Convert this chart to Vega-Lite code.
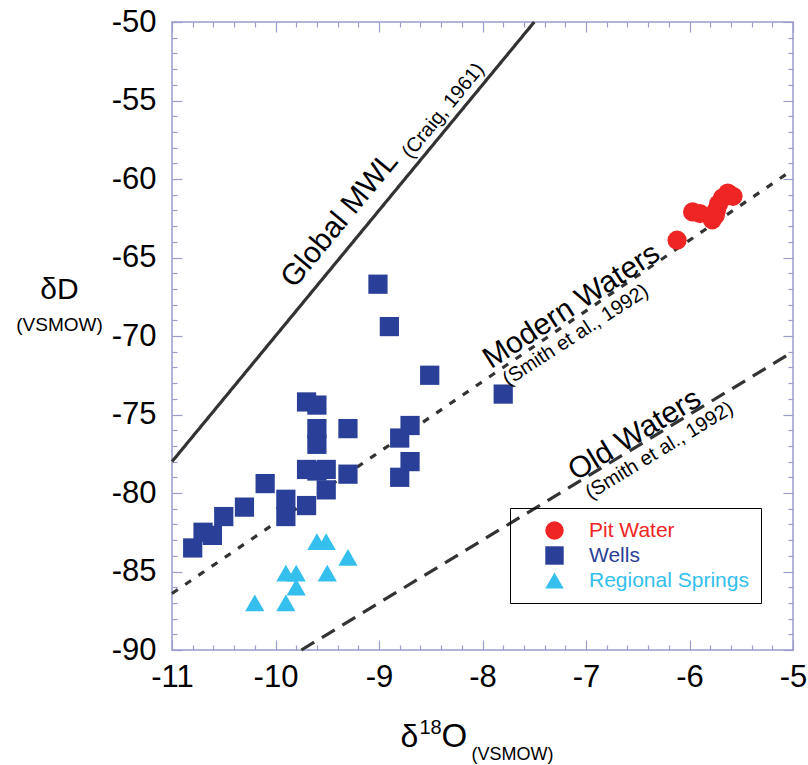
{
  "$schema": "https://vega.github.io/schema/vega-lite/v6.json",
  "width": 621,
  "height": 628,
  "autosize": {"type": "none"},
  "padding": {"left": 172, "top": 22, "right": 15, "bottom": 115},
  "background": "white",
  "config": {
    "font": "Liberation Sans, Arial, sans-serif",
    "view": {"stroke": "#9a9ccc", "strokeWidth": 1.5},
    "axis": {"domain": false, "grid": false, "tickColor": "#9a9ccc", "tickWidth": 1.2, "labelFont": "Liberation Sans, Arial, sans-serif", "labelColor": "black", "titleColor": "black", "titleFontWeight": "normal", "titleFont": "Liberation Sans, Arial, sans-serif", "labelFlush": false}
  },
  "datasets": {
    "points": [
      {"o18": -6.12, "dD": -63.9, "type": "Pit Water"},
      {"o18": -5.97, "dD": -62.1, "type": "Pit Water"},
      {"o18": -5.9, "dD": -62.2, "type": "Pit Water"},
      {"o18": -5.78, "dD": -62.6, "type": "Pit Water"},
      {"o18": -5.74, "dD": -62.0, "type": "Pit Water"},
      {"o18": -5.72, "dD": -61.6, "type": "Pit Water"},
      {"o18": -5.68, "dD": -61.2, "type": "Pit Water"},
      {"o18": -5.63, "dD": -60.9, "type": "Pit Water"},
      {"o18": -5.58, "dD": -61.1, "type": "Pit Water"},
      {"o18": -5.75, "dD": -62.3, "type": "Pit Water"},
      {"o18": -10.8, "dD": -83.5, "type": "Wells"},
      {"o18": -10.7, "dD": -82.5, "type": "Wells"},
      {"o18": -10.61, "dD": -82.7, "type": "Wells"},
      {"o18": -10.5, "dD": -81.5, "type": "Wells"},
      {"o18": -10.3, "dD": -80.9, "type": "Wells"},
      {"o18": -10.1, "dD": -79.4, "type": "Wells"},
      {"o18": -9.9, "dD": -80.4, "type": "Wells"},
      {"o18": -9.9, "dD": -81.5, "type": "Wells"},
      {"o18": -9.7, "dD": -74.2, "type": "Wells"},
      {"o18": -9.6, "dD": -74.4, "type": "Wells"},
      {"o18": -9.6, "dD": -75.9, "type": "Wells"},
      {"o18": -9.6, "dD": -76.9, "type": "Wells"},
      {"o18": -9.7, "dD": -78.5, "type": "Wells"},
      {"o18": -9.6, "dD": -78.6, "type": "Wells"},
      {"o18": -9.51, "dD": -78.5, "type": "Wells"},
      {"o18": -9.7, "dD": -80.8, "type": "Wells"},
      {"o18": -9.51, "dD": -79.8, "type": "Wells"},
      {"o18": -9.3, "dD": -75.9, "type": "Wells"},
      {"o18": -9.3, "dD": -78.8, "type": "Wells"},
      {"o18": -8.8, "dD": -76.5, "type": "Wells"},
      {"o18": -8.7, "dD": -75.7, "type": "Wells"},
      {"o18": -8.8, "dD": -79.0, "type": "Wells"},
      {"o18": -8.7, "dD": -78.0, "type": "Wells"},
      {"o18": -9.01, "dD": -66.7, "type": "Wells"},
      {"o18": -8.9, "dD": -69.4, "type": "Wells"},
      {"o18": -8.51, "dD": -72.5, "type": "Wells"},
      {"o18": -7.8, "dD": -73.7, "type": "Wells"},
      {"o18": -9.6, "dD": -83.1, "type": "Regional Springs"},
      {"o18": -9.51, "dD": -83.1, "type": "Regional Springs"},
      {"o18": -9.3, "dD": -84.1, "type": "Regional Springs"},
      {"o18": -9.9, "dD": -85.1, "type": "Regional Springs"},
      {"o18": -9.8, "dD": -85.1, "type": "Regional Springs"},
      {"o18": -9.5, "dD": -85.1, "type": "Regional Springs"},
      {"o18": -9.8, "dD": -86.0, "type": "Regional Springs"},
      {"o18": -10.2, "dD": -87.0, "type": "Regional Springs"},
      {"o18": -9.9, "dD": -87.0, "type": "Regional Springs"}
    ],
    "lines": [
      {"line": "Global MWL", "o18": -11, "dD": -78},
      {"line": "Global MWL", "o18": -7.5, "dD": -50},
      {"line": "Modern Waters", "o18": -11, "dD": -86.4},
      {"line": "Modern Waters", "o18": -5, "dD": -59.4},
      {"line": "Old Waters", "o18": -9.75, "dD": -90},
      {"line": "Old Waters", "o18": -5, "dD": -71}
    ],
    "labels": [
      {"key": "gmwl", "o18": -9.38, "dD": -62.6, "text": "Global MWL"},
      {"key": "craig", "o18": -8.38, "dD": -55.65, "text": "(Craig, 1961)"},
      {"key": "modern", "o18": -7.14, "dD": -68.1, "text": "Modern Waters"},
      {"key": "smith1", "o18": -7.1, "dD": -69.95, "text": "(Smith et al., 1992)"},
      {"key": "old", "o18": -6.53, "dD": -76.3, "text": "Old Waters"},
      {"key": "smith2", "o18": -6.29, "dD": -77.3, "text": "(Smith et al., 1992)"}
    ]
  },
  "resolve": {"axis": {"x": "independent", "y": "independent"}},
  "layer": [
    {
      "data": {"name": "lines"},
      "mark": {"type": "line", "color": "#333333", "strokeWidth": 3.2},
      "encoding": {
        "x": {"field": "o18", "type": "quantitative", "scale": {"domain": [-11, -5], "nice": false, "zero": false},
          "axis": {"orient": "top", "title": null, "labels": false,
            "values": [-11,-10.8,-10.6,-10.4,-10.2,-10,-9.8,-9.6,-9.4,-9.2,-9,-8.8,-8.6,-8.4,-8.2,-8,-7.8,-7.6,-7.4,-7.2,-7,-6.8,-6.6,-6.4,-6.2,-6,-5.8,-5.6,-5.4,-5.2,-5],
            "tickSize": {"condition": {"test": "abs(datum.value - round(datum.value)) < 0.01", "value": -10}, "value": -5}}},
        "y": {"field": "dD", "type": "quantitative", "scale": {"domain": [-90, -50], "nice": false, "zero": false},
          "axis": {"orient": "right", "title": null, "labels": false,
            "values": [-90,-89,-88,-87,-86,-85,-84,-83,-82,-81,-80,-79,-78,-77,-76,-75,-74,-73,-72,-71,-70,-69,-68,-67,-66,-65,-64,-63,-62,-61,-60,-59,-58,-57,-56,-55,-54,-53,-52,-51,-50],
            "tickSize": {"condition": {"test": "datum.value % 5 === 0", "value": -10}, "value": -5}}},
        "detail": {"field": "line"},
        "strokeDash": {"field": "line", "type": "nominal", "legend": null,
          "scale": {"domain": ["Global MWL", "Modern Waters", "Old Waters"], "range": [[1, 0], [7, 9], [15, 9]]}}
      }
    },
    {
      "data": {"name": "points"},
      "mark": {"type": "point", "filled": true, "opacity": 1, "size": 370},
      "encoding": {
        "x": {"field": "o18", "type": "quantitative", "scale": {"domain": [-11, -5], "nice": false, "zero": false},
          "axis": {"orient": "bottom", "title": "δ", "titleFontSize": 32, "titleAlign": "left", "titleBaseline": "alphabetic", "titleX": 228, "titleY": 96,
            "labelFontSize": 31, "labelPadding": 22,
            "values": [-11,-10.8,-10.6,-10.4,-10.2,-10,-9.8,-9.6,-9.4,-9.2,-9,-8.8,-8.6,-8.4,-8.2,-8,-7.8,-7.6,-7.4,-7.2,-7,-6.8,-6.6,-6.4,-6.2,-6,-5.8,-5.6,-5.4,-5.2,-5],
            "labelExpr": "abs(datum.value - round(datum.value)) < 0.01 ? '-' + abs(round(datum.value)) : ''",
            "labelOverlap": false,
            "tickSize": {"condition": {"test": "abs(datum.value - round(datum.value)) < 0.01", "value": -10}, "value": -5}}},
        "y": {"field": "dD", "type": "quantitative", "scale": {"domain": [-90, -50], "nice": false, "zero": false},
          "axis": {"orient": "left", "title": "δD", "titleFontSize": 30, "titleAngle": 0, "titleAlign": "center", "titleBaseline": "middle", "titleX": -113, "titleY": 267,
            "labelFontSize": 31, "labelPadding": 26,
            "values": [-90,-89,-88,-87,-86,-85,-84,-83,-82,-81,-80,-79,-78,-77,-76,-75,-74,-73,-72,-71,-70,-69,-68,-67,-66,-65,-64,-63,-62,-61,-60,-59,-58,-57,-56,-55,-54,-53,-52,-51,-50],
            "labelExpr": "datum.value % 5 === 0 ? '-' + abs(datum.value) : ''",
            "labelOverlap": false,
            "tickSize": {"condition": {"test": "datum.value % 5 === 0", "value": -10}, "value": -5}}},
        "color": {"field": "type", "type": "nominal",
          "scale": {"domain": ["Pit Water", "Wells", "Regional Springs"], "range": ["#ee2524", "#2a3f98", "#34bfec"]},
          "legend": {"title": null, "orient": "none", "legendX": 338, "legendY": 486,
            "strokeColor": "black", "padding": 12, "symbolOffset": 22, "labelOffset": 24, "rowPadding": 3,
            "labelFontSize": 21, "symbolSize": 340, "symbolStrokeWidth": 0,
            "labelColor": {"expr": "datum.value === 'Pit Water' ? '#ee2524' : datum.value === 'Wells' ? '#2a3f98' : '#34bfec'"},
            "encode": {
              "legend": {"strokeWidth": {"value": 2}}
            }}},
        "shape": {"field": "type", "type": "nominal",
          "scale": {"domain": ["Pit Water", "Wells", "Regional Springs"], "range": ["circle", "square", "triangle-up"]},
          "legend": null}
      }
    },
    {
      "data": {"name": "labels"},
      "transform": [{"filter": "datum.key === 'gmwl'"}],
      "mark": {"type": "text", "angle": -50.5, "fontSize": 30, "align": "center", "baseline": "middle", "color": "black"},
      "encoding": {
        "x": {"field": "o18", "type": "quantitative", "axis": {"orient": "bottom", "title": "18", "titleFontSize": 20, "titleAlign": "left", "titleBaseline": "alphabetic", "titleX": 247, "titleY": 83, "ticks": false, "labels": false, "domain": false}},
        "y": {"field": "dD", "type": "quantitative", "axis": {"orient": "left", "title": "(VSMOW)", "titleFontSize": 19, "titleAngle": 0, "titleAlign": "center", "titleBaseline": "middle", "titleX": -113, "titleY": 302, "ticks": false, "labels": false, "domain": false}},
        "text": {"field": "text"}
      }
    },
    {
      "data": {"name": "labels"},
      "transform": [{"filter": "datum.key === 'craig'"}],
      "mark": {"type": "text", "angle": -50.5, "fontSize": 20, "align": "center", "baseline": "middle", "color": "black"},
      "encoding": {
        "x": {"field": "o18", "type": "quantitative", "axis": {"orient": "bottom", "title": "O", "titleFontSize": 33, "titleAlign": "left", "titleBaseline": "alphabetic", "titleX": 269, "titleY": 96, "ticks": false, "labels": false, "domain": false}},
        "y": {"field": "dD", "type": "quantitative", "axis": null},
        "text": {"field": "text"}
      }
    },
    {
      "data": {"name": "labels"},
      "transform": [{"filter": "datum.key === 'modern'"}],
      "mark": {"type": "text", "angle": -33, "fontSize": 30, "align": "center", "baseline": "middle", "color": "black"},
      "encoding": {
        "x": {"field": "o18", "type": "quantitative", "axis": {"orient": "bottom", "title": "(VSMOW)", "titleFontSize": 18, "titleAlign": "left", "titleBaseline": "alphabetic", "titleX": 299, "titleY": 109, "ticks": false, "labels": false, "domain": false}},
        "y": {"field": "dD", "type": "quantitative", "axis": null},
        "text": {"field": "text"}
      }
    },
    {
      "data": {"name": "labels"},
      "transform": [{"filter": "datum.key === 'smith1'"}],
      "mark": {"type": "text", "angle": -33, "fontSize": 20, "align": "center", "baseline": "middle", "color": "black"},
      "encoding": {
        "x": {"field": "o18", "type": "quantitative", "axis": null},
        "y": {"field": "dD", "type": "quantitative", "axis": null},
        "text": {"field": "text"}
      }
    },
    {
      "data": {"name": "labels"},
      "transform": [{"filter": "datum.key === 'old'"}],
      "mark": {"type": "text", "angle": -31.3, "fontSize": 30, "align": "center", "baseline": "middle", "color": "black"},
      "encoding": {
        "x": {"field": "o18", "type": "quantitative", "axis": null},
        "y": {"field": "dD", "type": "quantitative", "axis": null},
        "text": {"field": "text"}
      }
    },
    {
      "data": {"name": "labels"},
      "transform": [{"filter": "datum.key === 'smith2'"}],
      "mark": {"type": "text", "angle": -31.3, "fontSize": 20, "align": "center", "baseline": "middle", "color": "black"},
      "encoding": {
        "x": {"field": "o18", "type": "quantitative", "axis": null},
        "y": {"field": "dD", "type": "quantitative", "axis": null},
        "text": {"field": "text"}
      }
    }
  ]
}
